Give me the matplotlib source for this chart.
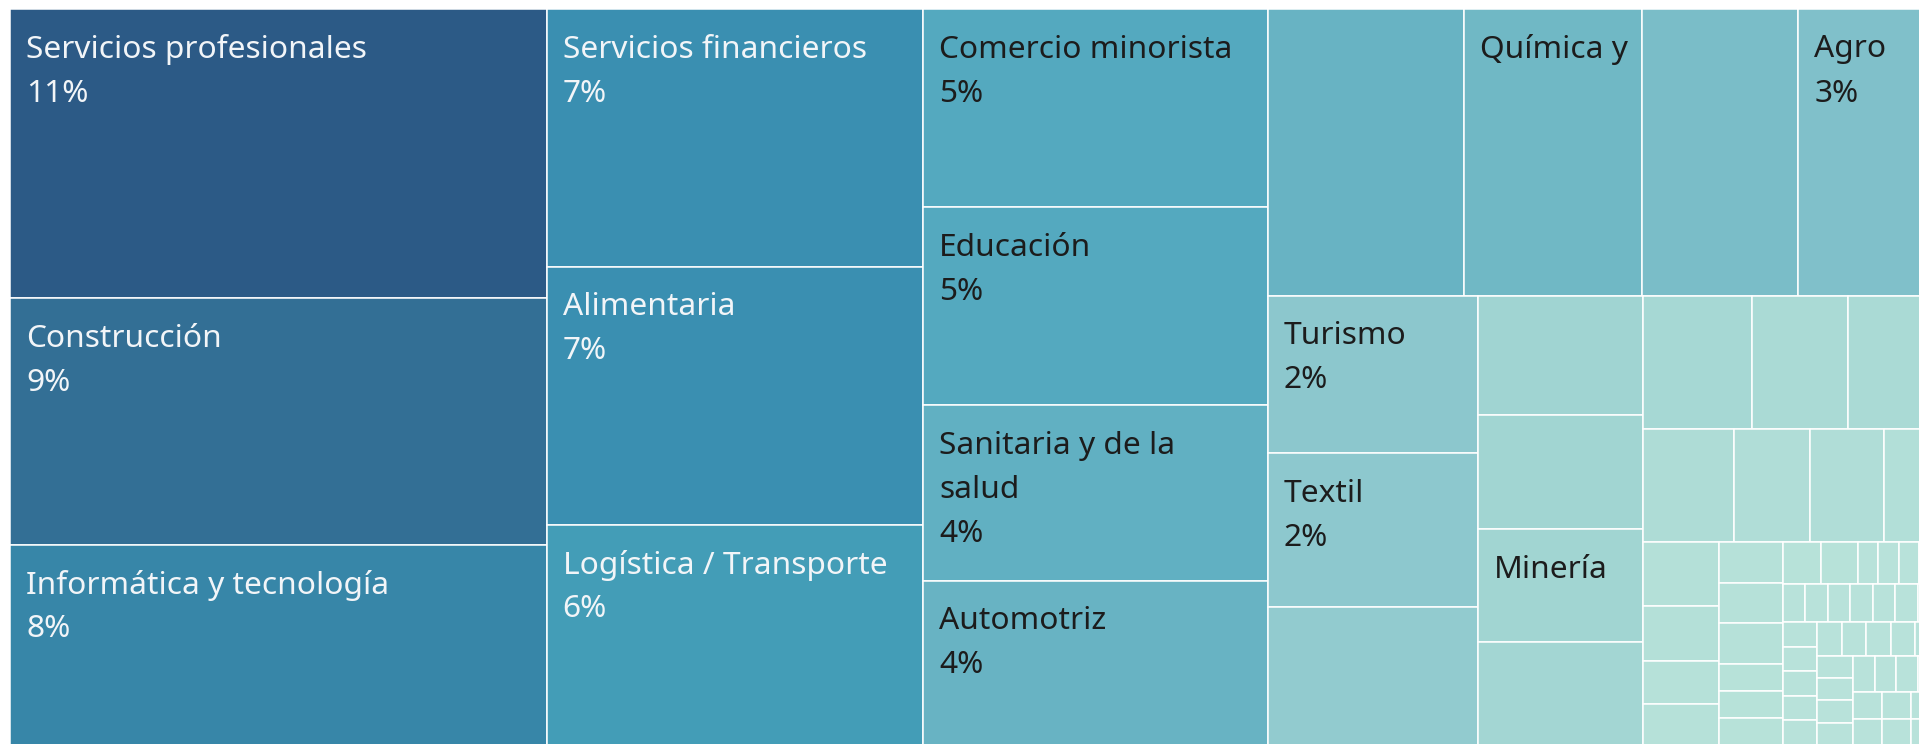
import numpy as np
import matplotlib
matplotlib.use("Agg")
import matplotlib.pyplot as plt
from matplotlib.patches import Rectangle
from matplotlib.colors import to_rgb

# share of each sector (%), largest first
values = [10.92, 9.30, 7.56,
          6.82, 6.82, 5.83,
          4.81, 4.80, 4.25, 3.98,
          3.97, 3.59, 3.15, 2.86,
          2.33, 2.28, 2.04,
          1.38, 1.32, 1.31, 1.19,
          1.02, 0.89, 0.86,
          0.73, 0.61, 0.59, 0.45,
          0.34, 0.30, 0.23, 0.22,
          0.18, 0.18, 0.18, 0.12, 0.12, 0.12,
          0.113, 0.107, 0.060, 0.060, 0.060, 0.060,
          0.060, 0.060, 0.060, 0.060, 0.060, 0.060, 0.060,
          0.060, 0.060, 0.060, 0.060, 0.060,
          0.058, 0.058, 0.058, 0.058, 0.058,
          0.056, 0.056, 0.056, 0.056,
          0.056, 0.056, 0.056, 0.056,
          0.054, 0.054, 0.054, 0.054, 0.054, 0.054]

# visible labels (the rest of the boxes are too small for text)
names = ["Servicios profesionales", "Construcción", "Informática y tecnología",
         "Servicios financieros", "Alimentaria", "Logística / Transporte",
         "Comercio minorista", "Educación", "Sanitaria y de la\nsalud", "Automotriz",
         "", "Química y", "", "Agro",
         "Turismo", "Textil", "",
         "", "", "Minería", ""]
no_pct = ["Química y", "Minería"]

# how the boxes are grouped into strips (items per strip, direction)
strips = [(3, "col"), (3, "col"), (4, "col"), (4, "row"), (3, "col"), (4, "col"),
          (3, "row"), (4, "row"), (4, "col"), (6, "col"), (6, "row"), (7, "row"),
          (5, "col"), (5, "row"), (4, "col"), (4, "row"), (2, "col"), (2, "col"),
          (2, "col")]

# colour scale by value
scale_vals = [0.0, 0.73, 1.02, 1.38, 2.04, 2.86, 3.98, 4.8, 5.83, 6.82, 7.56, 9.3, 11.0]
scale_cols = ["#b9e3da", "#aedcd6", "#a6d8d4", "#a0d4d2", "#92cbcf", "#80c0ca",
              "#68b3c3", "#54a9bf", "#439db7", "#3a8fb1", "#3786a8", "#336f95", "#2c5985"]


def color_for(v):
    rgb = np.array([to_rgb(c) for c in scale_cols])
    return tuple(np.interp(v, scale_vals, rgb[:, k]) for k in range(3))


def layout(vals, strips, x0, y0, x1, y1):
    rects = []
    i = 0
    rest = sum(vals)
    for n, kind in strips:
        part = vals[i:i + n]
        s = sum(part)
        if kind == "col":
            w = (x1 - x0) * s / rest
            y = y0
            for v in part:
                h = (y1 - y0) * v / s
                rects.append((x0, y, w, h))
                y += h
            x0 += w
        else:
            h = (y1 - y0) * s / rest
            x = x0
            for v in part:
                w = (x1 - x0) * v / s
                rects.append((x, y0, w, h))
                x += w
            y0 += h
        rest -= s
        i += n
    return rects


fig = plt.figure(figsize=(19.19, 7.44), dpi=100)
ax = fig.add_axes([0, 0, 1, 1])
ax.set_xlim(0, 1919)
ax.set_ylim(744, 0)
ax.axis("off")

total = sum(values)
rects = layout(values, strips, 10, 9, 1940, 745)

for i, (x, y, w, h) in enumerate(rects):
    v = values[i]
    ax.add_patch(Rectangle((x, y), w, h, facecolor=color_for(v),
                           edgecolor="white", linewidth=1.1))
    name = names[i] if i < len(names) else ""
    if not name:
        continue
    lines = name.split("\n")
    if name not in no_pct:
        lines.append(f"{round(v / total * 100)}%")
    tc = "#f2f5f8" if v > 5.5 else "#1c1c1c"
    for j, line in enumerate(lines):
        ax.text(x + 16, y + 40.5 + j * 44, line, fontsize=22.8, color=tc,
                family="Noto Sans", ha="left", va="center", clip_on=True)

fig.savefig("out.png", dpi=100)
